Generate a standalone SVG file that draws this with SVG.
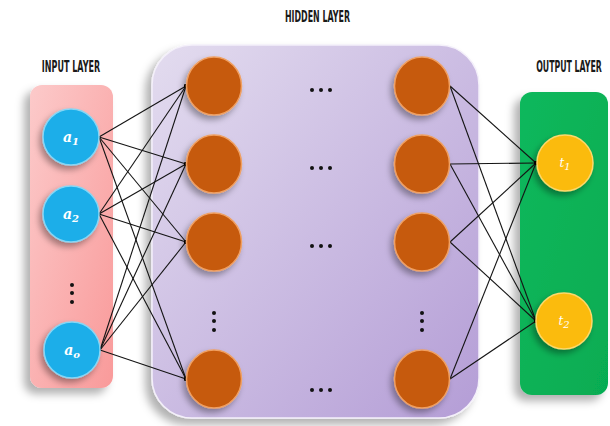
<svg xmlns="http://www.w3.org/2000/svg" width="610" height="426" viewBox="0 0 610 426">
<style>
.lbl{font-family:"Liberation Sans Narrow","DejaVu Sans Condensed","Liberation Sans",sans-serif;font-weight:bold;font-size:15.5px;fill:#1a1a1a;text-anchor:middle}
.var{font-family:"DejaVu Serif","Liberation Serif",serif;font-style:italic;font-weight:bold;font-size:14px;fill:#ffffff;text-anchor:middle}
.sub{font-size:10px}
.in{fill:#1aaee9;stroke:#86d6f5;stroke-width:1.5}
.hid{fill:#c65a0f;stroke:#f0a062;stroke-width:1.5}
.out{fill:#fbbb0c;stroke:#ffd86a;stroke-width:1.5}
.con line{stroke:#141414;stroke-width:1.1;marker-end:url(#dot)}
.dots circle{fill:#111}
</style>
<defs>
<marker id="dot" markerUnits="userSpaceOnUse" markerWidth="6" markerHeight="6" refX="3" refY="3" viewBox="0 0 6 6"><circle cx="3" cy="3" r="2" fill="#000"/></marker>
<linearGradient id="gPink" x1="0" y1="0" x2="1" y2="1"><stop offset="0" stop-color="#fccaca"/><stop offset="1" stop-color="#f99a9a"/></linearGradient>
<linearGradient id="gPurple" x1="0" y1="0" x2="1" y2="1"><stop offset="0" stop-color="#e3dcef"/><stop offset="1" stop-color="#b49dd6"/></linearGradient>
<linearGradient id="gGreen" x1="0" y1="0" x2="1" y2="1"><stop offset="0" stop-color="#10b85c"/><stop offset="1" stop-color="#06ac52"/></linearGradient>
<filter id="boxSh" x="-20%" y="-10%" width="140%" height="130%"><feDropShadow dx="-6" dy="6" stdDeviation="4" flood-color="#000" flood-opacity="0.3"/></filter>
<filter id="cSh" x="-40%" y="-40%" width="180%" height="180%"><feDropShadow dx="-3" dy="4" stdDeviation="3" flood-color="#000" flood-opacity="0.35"/></filter>
</defs>
<g id="labels">
<text class="lbl" transform="translate(317.5,22) scale(0.62,1)" textLength="105" lengthAdjust="spacingAndGlyphs">HIDDEN LAYER</text>
<text class="lbl" transform="translate(71,72) scale(0.62,1)" textLength="94" lengthAdjust="spacingAndGlyphs">INPUT LAYER</text>
<text class="lbl" transform="translate(569,72) scale(0.62,1)" textLength="106" lengthAdjust="spacingAndGlyphs">OUTPUT LAYER</text>
</g>
<g id="input-layer"><rect x="30" y="85" width="83" height="303" rx="12" fill="url(#gPink)" filter="url(#boxSh)"/></g>
<g id="hidden-layer"><rect x="152" y="45" width="327" height="373" rx="40" fill="url(#gPurple)" stroke="#f4f0fa" stroke-width="1.5" filter="url(#boxSh)"/></g>
<g id="output-layer"><rect x="520" y="92" width="88" height="303" rx="12" fill="url(#gGreen)" filter="url(#boxSh)"/></g>
<g class="con" id="connectors">
<line x1="99" y1="137" x2="186" y2="86"/><line x1="99" y1="137" x2="186" y2="164"/><line x1="99" y1="137" x2="186" y2="242"/><line x1="99" y1="137" x2="186" y2="379"/>
<line x1="99" y1="214" x2="186" y2="86"/><line x1="99" y1="214" x2="186" y2="164"/><line x1="99" y1="214" x2="186" y2="242"/><line x1="99" y1="214" x2="186" y2="379"/>
<line x1="100" y1="350" x2="186" y2="86"/><line x1="100" y1="350" x2="186" y2="164"/><line x1="100" y1="350" x2="186" y2="242"/><line x1="100" y1="350" x2="186" y2="379"/>
<line x1="450" y1="86" x2="536" y2="163"/><line x1="450" y1="86" x2="536" y2="321"/>
<line x1="450" y1="164" x2="536" y2="163"/><line x1="450" y1="164" x2="536" y2="321"/>
<line x1="450" y1="242" x2="536" y2="163"/><line x1="450" y1="242" x2="536" y2="321"/>
<line x1="450" y1="379" x2="536" y2="163"/><line x1="450" y1="379" x2="536" y2="321"/>
</g>
<g id="a1"><circle class="in" cx="71" cy="137" r="28" filter="url(#cSh)"/><text class="var" x="71" y="142">a<tspan class="sub" dy="3">1</tspan></text></g>
<g id="a2"><circle class="in" cx="71" cy="214" r="28" filter="url(#cSh)"/><text class="var" x="71" y="219">a<tspan class="sub" dy="3">2</tspan></text></g>
<g id="ao"><circle class="in" cx="72" cy="350" r="28" filter="url(#cSh)"/><text class="var" x="72" y="355">a<tspan class="sub" dy="3">o</tspan></text></g>
<g class="dots" id="input-dots"><circle cx="72" cy="285" r="2"/><circle cx="72" cy="293" r="2"/><circle cx="72" cy="302" r="2"/></g>
<g id="h11"><ellipse class="hid" cx="214" cy="86" rx="27.5" ry="29" filter="url(#cSh)"/></g>
<g id="h12"><ellipse class="hid" cx="214" cy="164" rx="27.5" ry="29" filter="url(#cSh)"/></g>
<g id="h13"><ellipse class="hid" cx="214" cy="242" rx="27.5" ry="29" filter="url(#cSh)"/></g>
<g id="h1n"><ellipse class="hid" cx="214" cy="379" rx="27.5" ry="29" filter="url(#cSh)"/></g>
<g id="hk1"><ellipse class="hid" cx="422" cy="86" rx="27.5" ry="29" filter="url(#cSh)"/></g>
<g id="hk2"><ellipse class="hid" cx="422" cy="164" rx="27.5" ry="29" filter="url(#cSh)"/></g>
<g id="hk3"><ellipse class="hid" cx="422" cy="242" rx="27.5" ry="29" filter="url(#cSh)"/></g>
<g id="hkn"><ellipse class="hid" cx="422" cy="379" rx="27.5" ry="29" filter="url(#cSh)"/></g>
<g class="dots" id="hidden-dots">
<circle cx="312" cy="90" r="2"/><circle cx="321" cy="90" r="2"/><circle cx="330" cy="90" r="2"/>
<circle cx="312" cy="168" r="2"/><circle cx="321" cy="168" r="2"/><circle cx="330" cy="168" r="2"/>
<circle cx="312" cy="246" r="2"/><circle cx="321" cy="246" r="2"/><circle cx="330" cy="246" r="2"/>
<circle cx="312" cy="390" r="2"/><circle cx="321" cy="390" r="2"/><circle cx="330" cy="390" r="2"/>
<circle cx="214" cy="313" r="2"/><circle cx="214" cy="321" r="2"/><circle cx="214" cy="330" r="2"/>
<circle cx="422" cy="313" r="2"/><circle cx="422" cy="321" r="2"/><circle cx="422" cy="330" r="2"/>
</g>
<g id="t1"><circle class="out" cx="565" cy="163" r="28" filter="url(#cSh)"/><text class="var" x="565" y="167" style="font-size:12px;font-weight:normal">t<tspan class="sub" dy="3">1</tspan></text></g>
<g id="t2"><circle class="out" cx="564" cy="321" r="28" filter="url(#cSh)"/><text class="var" x="564" y="325" style="font-size:12px;font-weight:normal">t<tspan class="sub" dy="3">2</tspan></text></g>
</svg>
